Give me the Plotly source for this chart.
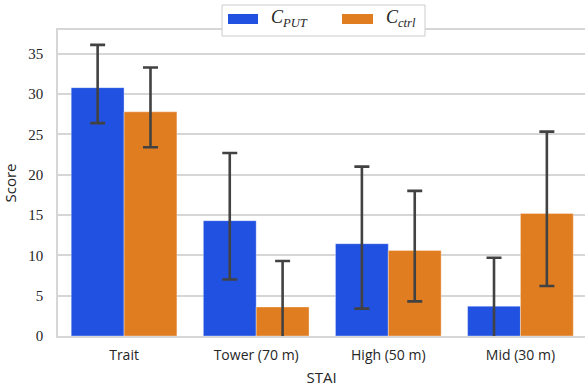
import plotly.graph_objects as go

categories = ["Trait", "Tower (70 m)", "High (50 m)", "Mid (30 m)"]
put_mean = [30.8, 14.3, 11.45, 3.7]
put_low = [26.4, 7.0, 3.4, -0.8]
put_high = [36.1, 22.7, 21.0, 9.7]
ctrl_mean = [27.8, 3.6, 10.6, 15.2]
ctrl_low = [23.4, -0.8, 4.3, 6.2]
ctrl_high = [33.3, 9.3, 18.0, 25.35]
y_ticks = [0, 5, 10, 15, 20, 25, 30, 35]

BLUE = "#2151e0"
ORANGE = "#e07d21"
ERR = "#424242"
GRID = "#d6d6d6"

W, H = 585, 388
L, R, T, B = 58, 0, 30, 52
pw = W - L - R
ph = H - T - B

fig = go.Figure()


def add(name, mean, low, high, color):
    fig.add_trace(go.Bar(
        x=categories, y=mean, name=name,
        marker=dict(color=color, line=dict(color="rgba(255,255,255,0.35)", width=1)),
        error_y=dict(type="data", symmetric=False,
                     array=[h - m for h, m in zip(high, mean)],
                     arrayminus=[m - l for m, l in zip(mean, low)],
                     color=ERR, thickness=2.6, width=7.5),
        showlegend=False,
    ))


add("C_PUT", put_mean, put_low, put_high, BLUE)
add("C_ctrl", ctrl_mean, ctrl_low, ctrl_high, ORANGE)


def px_x(px):
    return (px - L) / pw


def px_y(py):
    return (H - B - py) / ph


shapes = [
    dict(type="rect", xref="paper", yref="paper",
         x0=px_x(222), x1=px_x(425), y0=px_y(36), y1=px_y(5),
         fillcolor="white", line=dict(color="#cccccc", width=1), layer="above"),
    dict(type="rect", xref="paper", yref="paper",
         x0=px_x(228), x1=px_x(258), y0=px_y(24), y1=px_y(14),
         fillcolor=BLUE, line=dict(width=0), layer="above"),
    dict(type="rect", xref="paper", yref="paper",
         x0=px_x(342), x1=px_x(373), y0=px_y(24), y1=px_y(14),
         fillcolor=ORANGE, line=dict(width=0), layer="above"),
]
annotations = [
    dict(xref="paper", yref="paper", x=px_x(269), y=px_y(19), xanchor="left", yanchor="middle",
         text="<i>C</i><sub><i>PUT</i></sub>", showarrow=False,
         font=dict(family="Liberation Serif", size=18, color="#262626")),
    dict(xref="paper", yref="paper", x=px_x(384), y=px_y(19), xanchor="left", yanchor="middle",
         text="<i>C</i><sub><i>ctrl</i></sub>", showarrow=False,
         font=dict(family="Liberation Serif", size=18, color="#262626")),
]

fig.update_layout(
    width=W, height=H,
    margin=dict(l=L, r=R, t=T, b=B, pad=0),
    paper_bgcolor="white", plot_bgcolor="white",
    barmode="group", bargap=0.2, bargroupgap=0.0,
    shapes=shapes, annotations=annotations,
    xaxis=dict(range=[-0.5, 3.5 - 1.5 / 132], showline=True, linecolor=GRID, linewidth=1.5,
               mirror=True, showgrid=False, ticks="", ticklabelstandoff=5,
               tickfont=dict(family="Open Sans", size=14, color="#262626"),
               title=dict(text="STAI", font=dict(family="Open Sans", size=15, color="#262626"), standoff=10)),
    yaxis=dict(range=[0, 37.95], tickvals=y_ticks, showline=True, linecolor=GRID, linewidth=1.5,
               showgrid=True, gridcolor=GRID, gridwidth=1.5, zeroline=False, ticks="",
               ticklabelstandoff=10,
               tickfont=dict(family="Liberation Serif", size=15, color="#262626"),
               title=dict(text="Score", font=dict(family="Open Sans", size=15, color="#262626"), standoff=10)),
)

fig.write_html("out.html")
